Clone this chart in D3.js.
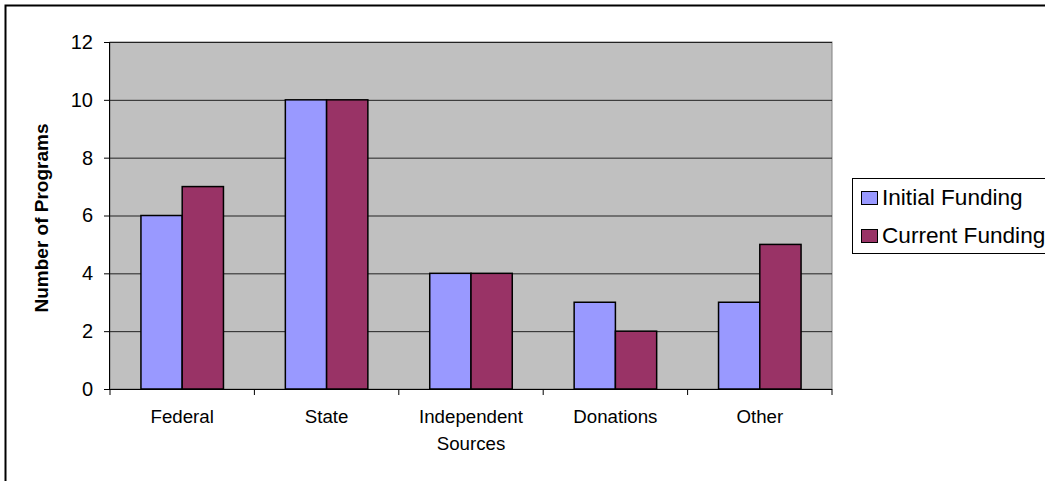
<!DOCTYPE html>
<html>
<head>
<meta charset="utf-8">
<script src="https://d3js.org/d3.v7.min.js"></script>
<style>
  body { margin: 0; background: #fff; }
  svg { display: block; font-family: "Liberation Sans", Arial, sans-serif; }
</style>
</head>
<body>
<svg id="chart" width="1045" height="481"></svg>
<script>
// data
let categories = [["Federal"], ["State"], ["Independent", "Sources"], ["Donations"], ["Other"]];
let initialFunding = [6, 10, 4, 3, 3];
let currentFunding = [7, 10, 4, 2, 5];
let seriesNames = ["Initial Funding", "Current Funding"];
let seriesColors = ["#9999FF", "#993366"];
let yTicks = [0, 2, 4, 6, 8, 10, 12];

let svg = d3.select('#chart');
let plot = { left: 110, right: 832, top: 42, bottom: 389 };

// outer frame (clipped on right and bottom)
svg.append('rect')
    .attr('x', 5.5).attr('y', 5.5)
    .attr('width', 1100).attr('height', 600)
    .attr('fill', 'none').attr('stroke', '#000').attr('stroke-width', 2);

let keys = categories.map(d => d.join(' '));
let xScale = d3.scaleBand().domain(keys).range([plot.left, plot.right]).paddingInner(0).paddingOuter(0);
let yScale = d3.scaleLinear().domain([0, 12]).range([plot.bottom, plot.top]);
let barW = xScale.bandwidth() / 3.5;

// plot background
svg.append('rect')
    .attr('x', plot.left).attr('y', plot.top)
    .attr('width', plot.right - plot.left).attr('height', plot.bottom - plot.top)
    .attr('fill', '#C0C0C0').attr('stroke', '#808080').attr('stroke-width', 1);

// gridlines
svg.append('g')
    .selectAll('line')
    .data(yTicks.filter(d => d > 0))
    .enter()
    .append('line')
    .attr('x1', plot.left).attr('x2', plot.right)
    .attr('y1', d => yScale(d) + 0.5).attr('y2', d => yScale(d) + 0.5)
    .attr('stroke', '#222').attr('stroke-width', 1);

// bars
let series = [initialFunding, currentFunding];
series.forEach((values, s) => {
    svg.append('g')
        .selectAll('rect')
        .data(values)
        .enter()
        .append('rect')
        .attr('x', (d, i) => xScale(keys[i]) + barW * 0.75 + s * barW)
        .attr('y', d => yScale(d))
        .attr('width', barW)
        .attr('height', d => yScale(0) - yScale(d))
        .attr('fill', seriesColors[s])
        .attr('stroke', '#000')
        .attr('stroke-width', 1.5);
});

// y axis
let yAxis = d3.axisLeft(yScale).tickValues(yTicks).tickSize(6).tickPadding(11).tickFormat(d3.format('d'));
let yAxisG = svg.append('g')
    .attr('transform', `translate(${plot.left},0)`)
    .call(yAxis);
yAxisG.select('.domain').attr('stroke', '#000').attr('d', `M-0.5,${plot.top}V${plot.bottom}`);
yAxisG.selectAll('.tick line').attr('stroke', '#000');
yAxisG.selectAll('.tick text')
    .attr('font-family', '"Liberation Sans", Arial, sans-serif')
    .attr('font-size', 20).attr('fill', '#000');

// x axis line and category ticks
svg.append('line')
    .attr('x1', plot.left - 6).attr('x2', plot.right)
    .attr('y1', plot.bottom + 0.5).attr('y2', plot.bottom + 0.5)
    .attr('stroke', '#000');
let boundaries = keys.map(k => xScale(k)).concat([plot.right]);
svg.append('g')
    .selectAll('line')
    .data(boundaries)
    .enter()
    .append('line')
    .attr('x1', d => d).attr('x2', d => d)
    .attr('y1', plot.bottom).attr('y2', plot.bottom + 6)
    .attr('stroke', '#000');

// category labels
svg.append('g')
    .selectAll('text')
    .data(categories)
    .enter()
    .append('text')
    .attr('x', (d, i) => xScale(keys[i]) + xScale.bandwidth() / 2)
    .attr('y', 423)
    .attr('text-anchor', 'middle')
    .attr('font-size', 18.7)
    .each(function (d) {
        let t = d3.select(this);
        d.forEach((line, j) => {
            t.append('tspan')
                .attr('x', t.attr('x'))
                .attr('dy', j === 0 ? 0 : 27)
                .text(line);
        });
    });

// y axis title
svg.append('text')
    .attr('transform', `translate(48,218) rotate(-90)`)
    .attr('text-anchor', 'middle')
    .attr('font-size', 19)
    .attr('font-weight', 'bold')
    .text('Number of Programs');

// legend
let legend = svg.append('g');
legend.append('rect')
    .attr('x', 852.5).attr('y', 178.5)
    .attr('width', 300).attr('height', 75)
    .attr('fill', '#fff').attr('stroke', '#000').attr('stroke-width', 1);
let items = legend.selectAll('g.item')
    .data(seriesNames)
    .enter()
    .append('g')
    .attr('class', 'item')
    .attr('transform', (d, i) => `translate(0,${i * 38})`);
items.append('rect')
    .attr('x', 861.5).attr('y', 191.5)
    .attr('width', 16).attr('height', 13)
    .attr('fill', (d, i) => seriesColors[i])
    .attr('stroke', '#000').attr('stroke-width', 1);
items.append('text')
    .attr('x', 882).attr('y', 205)
    .attr('font-size', 22.6)
    .text(d => d);
</script>
</body>
</html>
